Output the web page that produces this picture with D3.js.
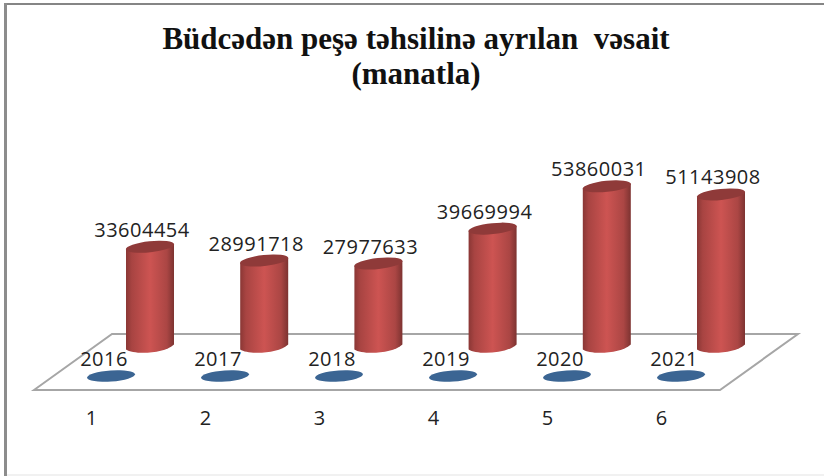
<!DOCTYPE html>
<html>

<head>
  <title>Büdcədən peşə təhsilinə ayrılan vəsait</title>
  <style>
    html, body { margin: 0; padding: 0; background: #fff; }
    svg { display: block; }
  </style>
</head>

<body>
  <svg id="svg" width="824" height="476"></svg>

  <script src="https://d3js.org/d3.v7.min.js"></script>
  <script>
    const positions = ["1", "2", "3", "4", "5", "6"]
    const years = ["2016", "2017", "2018", "2019", "2020", "2021"]
    const budget = [33604454, 28991718, 27977633, 39669994, 53860031, 51143908]
    const titleLines = ["Büdcədən peşə təhsilinə ayrılan  vəsait", "(manatla)"]

    const svg = d3.select("#svg")
    const sans = "'Open Sans', 'Noto Sans', sans-serif"
    const labelSize = 20
    const labelSpacing = 0.5

    // the chart is a fake 3d one: front row sits lower left of the back row
    const xFront = d3.scalePoint().domain(positions).range([111, 681])
    const xBack = d3.scalePoint().domain(positions).range([150, 721])
    const baseY = 347
    const yScale = d3.scaleLinear().domain([0, 60000000]).range([baseY, baseY - 179])

    // outer frame: only top and left are dark, bottom is very faint, no right side
    svg.append("line")
      .attr("x1", 4).attr("x2", 824)
      .attr("y1", 4).attr("y2", 4)
      .attr("stroke", "#858585")
      .attr("stroke-width", 2)
    svg.append("line")
      .attr("x1", 5.5).attr("x2", 5.5)
      .attr("y1", 3).attr("y2", 476)
      .attr("stroke", "#8c8c8c")
      .attr("stroke-width", 3)
    svg.append("line")
      .attr("x1", 7).attr("x2", 824)
      .attr("y1", 475).attr("y2", 475)
      .attr("stroke", "#ededed")
      .attr("stroke-width", 1.5)

    // title
    svg.append("text")
      .attr("text-anchor", "middle")
      .attr("font-family", "'Liberation Serif', serif")
      .attr("font-weight", "bold")
      .attr("font-size", 31)
      .attr("fill", "#111")
      .style("white-space", "pre")
      .selectAll("tspan")
      .data(titleLines)
      .enter()
      .append("tspan")
      .attr("x", 416)
      .attr("y", (d, i) => 49 + i * 35)
      .text(d => d)

    // floor
    const floor = [[34, 390], [112, 334], [798, 334], [720, 390]]
    svg.append("path")
      .attr("d", d3.line()(floor) + "Z")
      .attr("fill", "#fff")
      .attr("stroke", "#a6a6a6")
      .attr("stroke-width", 2)

    // horizontal shading across the cylinder body
    const defs = svg.append("defs")
    const grad = defs.append("linearGradient").attr("id", "cyl")
    grad.selectAll("stop")
      .data([[0, "#8a3735"], [0.12, "#a84442"], [0.5, "#cd5452"], [0.85, "#ab4644"], [1, "#7d3331"]])
      .enter()
      .append("stop")
      .attr("offset", d => d[0])
      .attr("stop-color", d => d[1])

    const rx = 24
    const ry = 5.5
    const lift = 2.5 // ellipse is tilted, so the left edge is lower than the right

    function cylinderPath(d, i) {
      const cx = xBack(positions[i])
      const top = yScale(d)
      return `M${cx - rx},${top + lift}
        L${cx - rx},${baseY + lift}
        C${cx - rx + 8},${baseY + 8} ${cx + rx - 10},${baseY + 7} ${cx + rx},${baseY - lift}
        L${cx + rx},${top - lift}
        Z`
    }

    svg.append("g")
      .selectAll("path")
      .data(budget)
      .enter()
      .append("path")
      .attr("d", cylinderPath)
      .attr("fill", "url(#cyl)")

    svg.append("g")
      .selectAll("ellipse")
      .data(budget)
      .enter()
      .append("ellipse")
      .attr("rx", rx + 0.3)
      .attr("ry", ry)
      .attr("transform", (d, i) => `translate(${xBack(positions[i])},${yScale(d)}) rotate(-6)`)
      .attr("fill", "#8f3a39")

    // value labels
    svg.append("g")
      .selectAll("text")
      .data(budget)
      .enter()
      .append("text")
      .attr("x", (d, i) => xBack(positions[i]) - 8)
      .attr("y", d => yScale(d) - 10)
      .attr("text-anchor", "middle")
      .attr("font-family", sans)
      .attr("font-size", labelSize)
      .attr("letter-spacing", labelSpacing)
      .attr("fill", "#222")
      .text(d => d)

    // year markers on the floor
    svg.append("g")
      .selectAll("ellipse")
      .data(years)
      .enter()
      .append("ellipse")
      .attr("rx", 24)
      .attr("ry", 5.5)
      .attr("transform", (d, i) => `translate(${xFront(positions[i])},376) rotate(-4)`)
      .attr("fill", "#3b6593")

    svg.append("g")
      .selectAll("text")
      .data(years)
      .enter()
      .append("text")
      .attr("x", (d, i) => xFront(positions[i]) - 7)
      .attr("y", 366)
      .attr("text-anchor", "middle")
      .attr("font-family", sans)
      .attr("font-size", labelSize)
      .attr("letter-spacing", labelSpacing)
      .attr("fill", "#222")
      .text(d => d)

    // bottom axis, line and ticks are hidden like in the original
    const axis = svg.append("g")
      .attr("transform", "translate(-20,418)")
      .call(d3.axisBottom(xFront).tickSize(0).tickPadding(0))
    axis.select(".domain").remove()
    axis.selectAll("text")
      .attr("font-family", sans)
      .attr("font-size", labelSize)
      .attr("fill", "#222")
      .attr("dy", "0.35em")
  </script>
</body>

</html>
